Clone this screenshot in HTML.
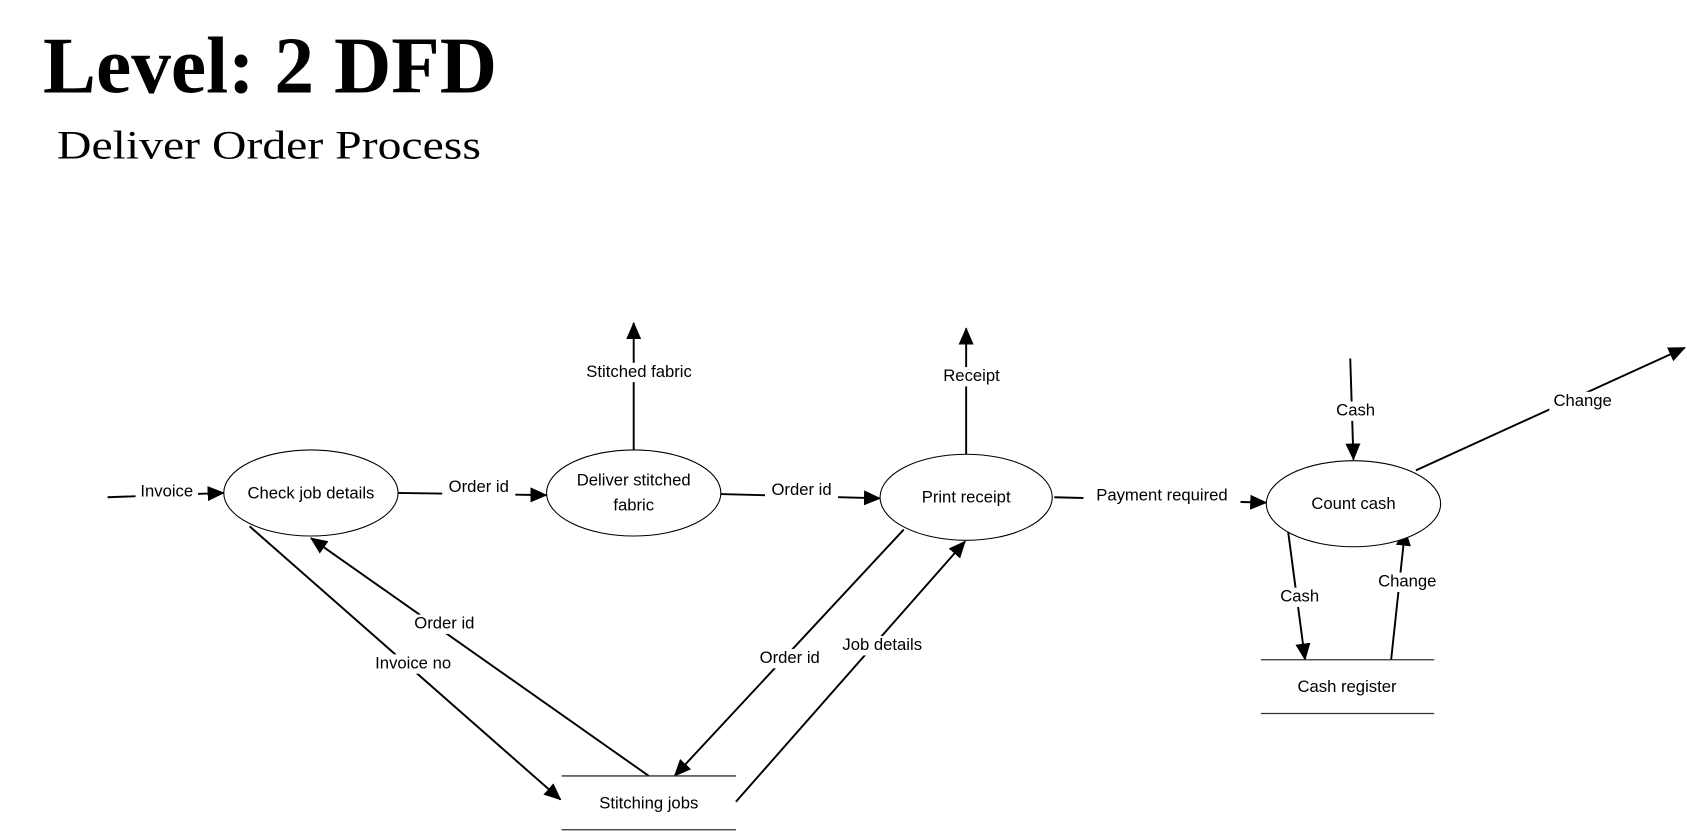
<!DOCTYPE html>
<html><head><meta charset="utf-8"><style>
html,body{margin:0;padding:0;background:#fff;}
svg{display:block}
.l{font-family:"Liberation Sans",sans-serif;font-size:15.5px;fill:#000;text-anchor:middle;dominant-baseline:middle}
.bg{fill:#fff}
</style></head><body>
<svg width="1687" height="831" viewBox="0 0 1568 772" xmlns="http://www.w3.org/2000/svg">
<defs><marker id="a" markerWidth="10" markerHeight="8" refX="9" refY="4" orient="auto" markerUnits="userSpaceOnUse"><path d="M0,0 L10,4 L0,8 Z" fill="#000"/></marker>
<marker id="b" markerWidth="16" markerHeight="14" refX="15" refY="7" orient="auto" markerUnits="userSpaceOnUse"><path d="M0,0 L16,7 L0,14 Z" fill="#000"/></marker></defs>
<text x="40" y="86" font-family="Liberation Serif,serif" font-weight="bold" font-size="75" textLength="422" lengthAdjust="spacingAndGlyphs">Level: 2 DFD</text>
<text x="53" y="147" font-family="Liberation Serif,serif" font-size="37" textLength="394" lengthAdjust="spacingAndGlyphs">Deliver Order Process</text>
<g stroke="#000" stroke-width="1.8" fill="none" marker-end="url(#b)">
<line x1="100" y1="462" x2="208" y2="458"/>
<line x1="370" y1="458" x2="508" y2="460"/>
<line x1="670" y1="459" x2="818" y2="463"/>
<line x1="980" y1="462" x2="1177" y2="467"/>
<line x1="589" y1="418" x2="589" y2="300"/>
<line x1="898" y1="422" x2="898" y2="305"/>
<line x1="1255" y1="333" x2="1258" y2="427"/>
<line x1="1316" y1="437" x2="1566" y2="323"/>
<line x1="1197" y1="492" x2="1213" y2="613"/>
<line x1="1293" y1="613" x2="1306" y2="492"/>
<line x1="232" y1="489" x2="521" y2="743"/>
<line x1="603" y1="721" x2="289" y2="500"/>
<line x1="840" y1="492" x2="627" y2="721"/>
<line x1="684" y1="745" x2="897" y2="503"/>
</g>
<g stroke="#000" stroke-width="1" fill="#fff">
<ellipse cx="289" cy="458" rx="81" ry="40"/>
<ellipse cx="589" cy="458" rx="81" ry="40"/>
<ellipse cx="898" cy="462" rx="80" ry="40"/>
<ellipse cx="1258" cy="468" rx="81" ry="40"/>
</g>
<g stroke="#333" stroke-width="1.2">
<line x1="522" y1="721" x2="684" y2="721"/><line x1="522" y1="771" x2="684" y2="771"/>
<line x1="1172" y1="613" x2="1333" y2="613"/><line x1="1172" y1="663" x2="1333" y2="663"/>
</g>
<g class="bg">
<rect x="126" y="448" width="58" height="18"/><rect x="411" y="444" width="68" height="18"/>
<rect x="711" y="447" width="68" height="18"/><rect x="1007" y="452" width="146" height="18"/>
<rect x="534" y="337" width="120" height="18"/><rect x="872" y="341" width="62" height="18"/>
<rect x="1240" y="373" width="40" height="18"/><rect x="1440" y="364" width="62" height="18"/>
<rect x="1188" y="546" width="40" height="18"/><rect x="1277" y="532" width="62" height="18"/>
<rect x="342" y="608" width="84" height="18"/><rect x="380" y="571" width="66" height="18"/>
<rect x="701" y="603" width="66" height="18"/><rect x="777" y="591" width="86" height="18"/>
</g>
<g class="l">
<text x="289" y="459">Check job details</text>
<text x="589" y="447">Deliver stitched</text><text x="589" y="470">fabric</text>
<text x="898" y="463">Print receipt</text>
<text x="1258" y="469">Count cash</text>
<text x="603" y="747">Stitching jobs</text>
<text x="1252" y="639">Cash register</text>
<text x="155" y="457">Invoice</text><text x="445" y="453">Order id</text>
<text x="745" y="456">Order id</text><text x="1080" y="461">Payment required</text>
<text x="594" y="346">Stitched fabric</text><text x="903" y="350">Receipt</text>
<text x="1260" y="382">Cash</text><text x="1471" y="373">Change</text>
<text x="1208" y="555">Cash</text><text x="1308" y="541">Change</text>
<text x="384" y="617">Invoice no</text><text x="413" y="580">Order id</text>
<text x="734" y="612">Order id</text><text x="820" y="600">Job details</text>
</g>
</svg>
</body></html>
